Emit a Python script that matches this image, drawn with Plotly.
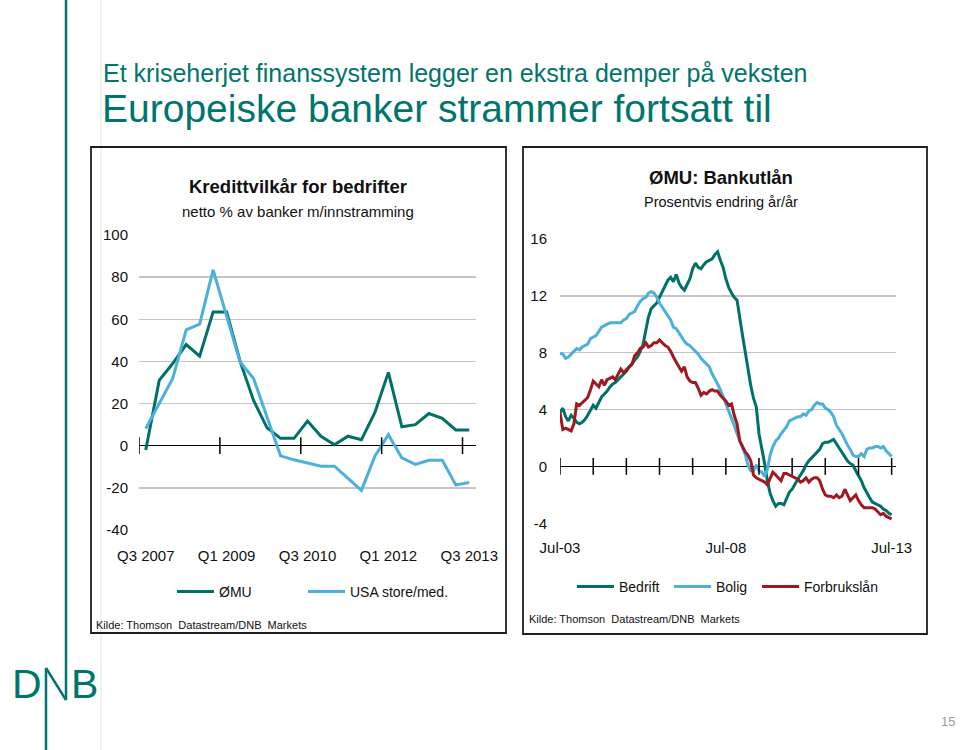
import plotly.graph_objects as go
import pandas as pd
import numpy as np

W, H = 960, 750

# ---------------- Left chart data (quarterly) ----------------
quarters = ["Q3 2007", "Q4 2007", "Q1 2008", "Q2 2008", "Q3 2008", "Q4 2008",
            "Q1 2009", "Q2 2009", "Q3 2009", "Q4 2009", "Q1 2010", "Q2 2010",
            "Q3 2010", "Q4 2010", "Q1 2011", "Q2 2011", "Q3 2011", "Q4 2011",
            "Q1 2012", "Q2 2012", "Q3 2012", "Q4 2012", "Q1 2013", "Q2 2013",
            "Q3 2013"]
emu_tightening = [-2, 31, 39, 48, 42.5, 63.5, 63.5, 40, 21.5, 8.5, 3.5, 3.5,
                  11.7, 4.5, 0.5, 4.5, 2.8, 15.8, 34.8, 9, 10, 15.3, 13, 7.5, 7.5]
usa_tightening = [8.1, 19.8, 31.9, 55, 57.7, 83.4, 62, 39.7, 31.9, 14, -4.8, -6.7,
                  -8.1, -9.7, -9.7, -15.5, -21.2, -5, 5.2, -5.8, -8.9, -6.9, -6.9,
                  -18.6, -17.5]
left_yticks = [-40, -20, 0, 20, 40, 60, 80, 100]

# ---------------- Right chart data (monthly, Jul-03 .. Jul-13) ----------------
months = pd.date_range("2003-07-01", periods=121, freq="MS")
bedrift = [3.8, 4.1, 3.5, 3.2, 3.6, 3.4, 3.1, 3.0, 3.1, 3.3, 3.6, 4.0,
           4.3, 4.1, 4.5, 4.9, 5.1, 5.3, 5.6, 5.8, 5.9, 6.1, 6.3, 6.5,
           6.7, 7.0, 7.2, 7.5, 7.7, 8.1, 8.6, 9.6, 10.5, 11.1, 11.3, 11.5,
           11.9, 12.3, 12.7, 13.1, 13.3, 13.0, 13.5, 12.9, 12.6, 12.4, 12.8, 13.2,
           13.9, 14.3, 14.0, 13.9, 14.2, 14.4, 14.5, 14.6, 14.9, 15.1, 14.5, 14.0,
           13.2, 12.6, 12.2, 11.9, 11.7, 10.6, 9.2, 8.0, 6.8, 5.7, 4.8, 4.2,
           2.3, 1.3, 0.2, -1.0, -1.9, -2.4, -2.8, -2.6, -2.6, -2.7, -2.3, -1.8,
           -1.6, -1.2, -0.9, -0.6, -0.3, 0.1, 0.4, 0.6, 0.8, 1.0, 1.2, 1.6,
           1.7, 1.7, 1.8, 1.9, 1.6, 1.3, 1.0, 0.7, 0.4, 0.2, 0.1, -0.3,
           -0.6, -1.0, -1.5, -1.9, -2.2, -2.5, -2.6, -2.7, -2.8, -3.0, -3.1, -3.3,
           -3.4]
bolig = [7.95, 7.9, 7.6, 7.7, 7.9, 8.1, 8.3, 8.2, 8.4, 8.5, 8.6, 9.0,
         9.1, 9.2, 9.5, 9.8, 9.9, 10.0, 10.1, 10.1, 10.1, 10.1, 10.1, 10.3,
         10.4, 10.7, 10.8, 10.9, 11.3, 11.6, 11.8, 11.9, 12.2, 12.3, 12.2, 11.9,
         11.5, 11.2, 10.9, 10.6, 10.3, 9.8, 9.7, 9.4, 9.1, 8.8, 8.6, 8.5,
         8.3, 8.1, 7.9, 7.6, 7.4, 7.2, 7.0, 6.5, 6.2, 5.8, 5.4, 4.9,
         4.5, 4.0, 3.4, 2.9, 2.3, 1.8, 1.3, 0.8, 0.1, -0.3, -0.3, 0.1,
         -0.3, -0.4, -0.7, -0.2, 0.8, 1.4, 1.8, 2.0, 2.3, 2.6, 2.8, 3.2,
         3.3, 3.4, 3.5, 3.5, 3.7, 3.6, 3.9, 4.0, 4.3, 4.5, 4.4, 4.4,
         4.1, 4.0, 3.8, 3.5, 2.9, 2.6, 2.3, 1.9, 1.5, 1.2, 0.8, 0.7,
         0.7, 0.9, 0.7, 1.2, 1.3, 1.3, 1.4, 1.4, 1.3, 1.4, 1.1, 0.9,
         0.7]
forbrukslan = [3.8, 2.6, 2.7, 2.6, 2.5, 3.0, 4.4, 4.3, 4.5, 4.7, 4.85, 5.4,
               6.0, 5.8, 5.6, 6.1, 5.7, 6.1, 6.2, 6.3, 6.1, 6.5, 6.85, 6.6,
               6.8, 7.0, 7.2, 7.8, 8.0, 8.3, 8.4, 8.7, 8.4, 8.5, 8.7, 8.7,
               8.9, 8.7, 8.5, 8.4, 8.1, 7.7, 7.3, 7.0, 6.7, 7.0, 6.3, 6.0,
               5.9, 5.9, 5.5, 5.0, 5.2, 5.1, 5.3, 5.4, 5.3, 5.3, 5.0, 4.8,
               4.6, 4.3, 4.4, 3.6, 3.0, 1.8, 1.4, 1.0, 0.8, 0.4, -0.6, -0.8,
               -0.9, -1.0, -1.1, -1.3, -0.9, -0.4, -0.6, -0.8, -1.0, -0.5, -0.5, -0.6,
               -0.7, -0.8, -0.9, -1.1, -1.0, -0.8, -1.1, -0.9, -0.8, -0.8, -1.0, -1.6,
               -2.0, -2.1, -2.1, -2.2, -2.0, -2.2, -2.1, -1.6, -2.0, -2.4, -2.2, -2.0,
               -2.4, -2.7, -2.9, -2.9, -2.9, -2.9, -3.0, -3.2, -3.4, -3.3, -3.5, -3.6,
               -3.7]
right_yticks = [-4, 0, 4, 8, 12, 16]
right_xlabels = ["Jul-03", "Jul-08", "Jul-13"]

# ---------------- styling ----------------
TEAL = "#007168"
LBLUE = "#4BB0DB"
RED = "#A01920"
SLIDE_TEAL = "#00756C"
SANS = "Liberation Sans, Arial, sans-serif"
TXT = "#111111"


def px(x):
    return x / W


def py(y):
    return 1 - y / H


fig = go.Figure()

# left traces
xq = list(range(len(quarters)))
fig.add_trace(go.Scatter(x=xq, y=emu_tightening, mode="lines", name="ØMU",
                         line=dict(color=TEAL, width=3), xaxis="x", yaxis="y",
                         legend="legend", legendwidth=79))
fig.add_trace(go.Scatter(x=xq, y=usa_tightening, mode="lines", name="USA store/med.",
                         line=dict(color=LBLUE, width=3), xaxis="x", yaxis="y",
                         legend="legend"))
# left tick marks on zero line (category boundaries every 6 quarters)
ltick = np.arange(-0.5, len(quarters) - 1, 6)
fig.add_trace(go.Scatter(x=ltick, y=[0] * len(ltick), mode="markers", showlegend=False,
                         hoverinfo="skip",
                         marker=dict(symbol="line-ns-open", size=12, color="black",
                                     line=dict(color="black", width=1.5)),
                         xaxis="x", yaxis="y"))

# right traces
fig.add_trace(go.Scatter(x=months, y=bedrift, mode="lines", name="Bedrift",
                         line=dict(color=TEAL, width=3), xaxis="x2", yaxis="y2",
                         legend="legend2", legendwidth=45))
fig.add_trace(go.Scatter(x=months, y=bolig, mode="lines", name="Bolig",
                         line=dict(color=LBLUE, width=3), xaxis="x2", yaxis="y2",
                         legend="legend2", legendwidth=36))
fig.add_trace(go.Scatter(x=months, y=forbrukslan, mode="lines", name="Forbrukslån",
                         line=dict(color=RED, width=3), xaxis="x2", yaxis="y2",
                         legend="legend2"))
rtick = pd.date_range(months[0], months[-1], freq="12MS")
fig.add_trace(go.Scatter(x=rtick, y=[0] * len(rtick), mode="markers", showlegend=False,
                         hoverinfo="skip",
                         marker=dict(symbol="line-ns-open", size=12, color="black",
                                     line=dict(color="black", width=1.5)),
                         xaxis="x2", yaxis="y2"))

axis_font = dict(family=SANS, size=15, color=TXT)

fig.update_layout(
    template="none",
    width=W, height=H,
    margin=dict(l=0, r=0, t=0, b=0, pad=0, autoexpand=False),
    paper_bgcolor="white", plot_bgcolor="rgba(0,0,0,0)",
    showlegend=True,
    hovermode=False,
    xaxis=dict(domain=[px(139), px(476)], range=[-0.5, len(quarters) - 0.5],
               tickvals=xq[::6], ticktext=quarters[::6], showgrid=False,
               zeroline=False, showline=False, ticks="", tickfont=axis_font,
               ticklabelstandoff=15, fixedrange=True, automargin=False),
    yaxis=dict(domain=[py(530), py(235)], range=[-40, 100],
               tickvals=left_yticks, ticktext=[str(v) for v in left_yticks],
               showgrid=True, gridcolor="#C4C4C4", gridwidth=1.5,
               zeroline=True, zerolinecolor="black", zerolinewidth=1.5,
               showline=False, ticks="", tickfont=axis_font,
               ticklabelstandoff=10, fixedrange=True, automargin=False),
    xaxis2=dict(domain=[px(560), px(896)], type="date",
                range=["2003-07-01", "2013-08-18"],
                tickvals=[months[0], months[60], months[120]], ticktext=right_xlabels,
                showgrid=False, zeroline=False, showline=False, ticks="",
                tickfont=axis_font, ticklabelstandoff=14, anchor="y2",
                fixedrange=True, automargin=False),
    yaxis2=dict(domain=[py(523.3), py(239)], range=[-4, 16],
                tickvals=right_yticks, ticktext=[str(v) for v in right_yticks],
                showgrid=True, gridcolor="#C4C4C4", gridwidth=1.5,
                zeroline=True, zerolinecolor="black", zerolinewidth=1.5,
                showline=False, ticks="", tickfont=axis_font,
                ticklabelstandoff=12, anchor="x2", fixedrange=True, automargin=False),
    legend=dict(orientation="h", x=px(172), y=py(592), xanchor="left", yanchor="middle",
                itemwidth=37,
                font=dict(family=SANS, size=14, color=TXT),
                bgcolor="rgba(0,0,0,0)", itemclick=False, itemdoubleclick=False),
    legend2=dict(orientation="h", x=px(572), y=py(587), xanchor="left", yanchor="middle",
                 itemwidth=37,
                 font=dict(family=SANS, size=14, color=TXT),
                 bgcolor="rgba(0,0,0,0)", itemclick=False, itemdoubleclick=False),
)

shapes = []
# slide decorations
shapes.append(dict(type="line", xref="paper", yref="paper", x0=px(101), x1=px(101),
                   y0=0, y1=1, line=dict(color="#E4E4E4", width=1), layer="below"))
shapes.append(dict(type="line", xref="paper", yref="paper", x0=px(66), x1=px(66),
                   y0=py(700), y1=1, line=dict(color=SLIDE_TEAL, width=2.5)))
# DNB logo "N"
shapes.append(dict(type="line", xref="paper", yref="paper", x0=px(46), x1=px(46),
                   y0=0, y1=py(668), line=dict(color=SLIDE_TEAL, width=2.5)))
shapes.append(dict(type="line", xref="paper", yref="paper", x0=px(46), x1=px(66),
                   y0=py(668), y1=py(700), line=dict(color=SLIDE_TEAL, width=2.5)))
# chart boxes
for (x0, y0, x1, y1) in [(91, 147, 506, 633), (523, 147, 927, 634)]:
    shapes.append(dict(type="rect", xref="paper", yref="paper",
                       x0=px(x0), x1=px(x1), y0=py(y1), y1=py(y0),
                       line=dict(color="#1E1E1E", width=1.8), fillcolor="rgba(0,0,0,0)",
                       layer="below"))
fig.update_layout(shapes=shapes)

ann = []


def text(x, y, s, size, family=SANS, color=TXT, xanchor="center", bold=False):
    ann.append(dict(xref="paper", yref="paper", x=px(x), y=py(y), text=s,
                    showarrow=False, xanchor=xanchor, yanchor="middle",
                    font=dict(family=family, size=size, color=color,
                              weight="bold" if bold else "normal")))


text(101, 73, "Et kriseherjet finanssystem legger en ekstra demper på veksten", 25,
     color=SLIDE_TEAL, xanchor="left")
text(100, 108, "Europeiske banker strammer fortsatt til", 39,
     color=SLIDE_TEAL, xanchor="left")

text(298, 186, "Kredittvilkår for bedrifter", 18.5, bold=True)
text(298, 212, "netto % av banker m/innstramming", 15)
text(721, 177, "ØMU: Bankutlån", 18.5, bold=True)
text(721, 202, "Prosentvis endring år/år", 14.5)

text(94, 625, "Kilde: Thomson  Datastream/DNB  Markets", 11, xanchor="left")
text(527, 619, "Kilde: Thomson  Datastream/DNB  Markets", 11, xanchor="left")

text(27, 684, "D", 41, color=SLIDE_TEAL)
text(84.5, 684, "B", 41, color=SLIDE_TEAL)
text(948, 721, "15", 13, color="#9A9A9A")

fig.update_layout(annotations=ann)

fig.write_html("out.html",
               config={"displayModeBar": False, "staticPlot": True},
               post_script="document.body.style.margin='0';document.body.style.overflow='hidden';")
